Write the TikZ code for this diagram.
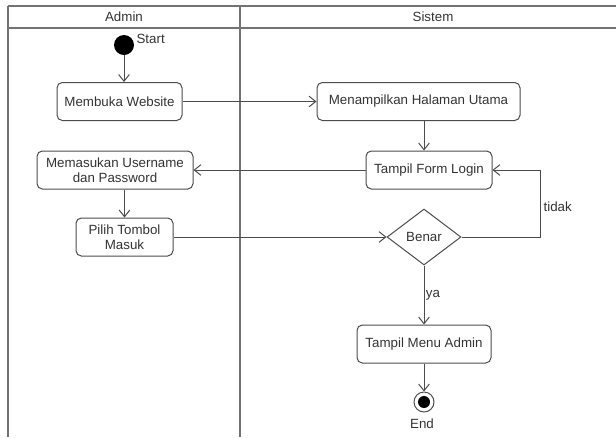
\documentclass[tikz,border=0pt]{standalone}
\usepackage{fontspec}
\setmainfont{Liberation Sans}
\usepackage{tikz}
\usetikzlibrary{shapes.geometric}
\usetikzlibrary{arrows.meta}
\newcommand{\laneline}[1]{ \draw[lane] ( #1 , 6 ) -- ( #1 , 437 );}
\newcommand{\lanetitle}[3]{ \node[txt] (#1) at ( #2 , 17 ) {#3};}
\tikzset{
  lane/.style={draw=black!55, line width=1.3pt},
  txt/.style={text=black!80, font=\fontsize{10}{11.5}\selectfont, inner sep=1pt},
  act/.style={txt, draw=black!70, line width=0.75pt, rounded corners=4pt, align=center, inner sep=0pt, minimum height=28.5pt},
  decide/.style={txt, draw=black!70, line width=0.75pt, diamond, inner sep=0pt, minimum width=55.5pt, minimum height=42pt},
  startnode/.style={circle, fill=black, inner sep=0pt, minimum size=15pt},
  endnode/.style={circle, draw=black!70, line width=0.75pt, inner sep=0pt, minimum size=15pt,
    path picture={\fill[black] (path picture bounding box.center) circle (4.5pt);}},
  flow/.style={draw=black!70, line width=0.75pt, -{Straight Barb[length=5pt,width=8pt]}}
}
\begin{document}
\begin{tikzpicture}[x=0.75pt, y=-0.75pt]
        \useasboundingbox (0,0) rectangle (616,437);
        % lanes
        \draw[lane] (8,6) -- (616,6);
        \draw[lane] (8,28) -- (616,28);
        \laneline{8}
        \laneline{240}
        \lanetitle{admin}{124}{Admin}
        \lanetitle{sistem}{433}{Sistem}
        % admin
        \node[startnode] (start) at (124,45) {};
        \node[txt, anchor=west] (startlbl) at (135,39) {Start};
        \node[act, minimum width=93.75pt] (website) at (119.5,101.5) {Membuka Website};
        \node[act, minimum width=117pt] (username) at (115,170) {Memasukan Username\\dan Password};
        \node[act, minimum width=72.75pt] (pilih) at (124.5,237) {Pilih Tombol\\Masuk};
        % sistem
        \node[act, minimum width=152.25pt] (halaman) at (418.5,101.5) {Menampilkan Halaman Utama};
        \node[act, minimum width=94.5pt] (login) at (429,170) {Tampil Form Login};
        \node[decide] (benar) at (424,237) {Benar};
        \node[act, minimum width=100.5pt] (menu) at (424,344) {Tampil Menu Admin};
        \node[endnode] (end) at (424,402) {};
        \node[txt] (endlbl) at (422,424) {End};
        \coordinate (back) at (540,170);
        % flows
        \draw[flow] (start) -- (start |- website.north);
        \draw[flow] (website) -- (halaman);
        \draw[flow] (halaman.south -| benar) -- (login.north -| benar);
        \draw[flow] (login) -- (username);
        \draw[flow] (pilih |- username.south) -- (pilih.north);
        \draw[flow] (pilih) -- (benar);
        \draw[flow] (benar.east) -| (back) -- (login.east);
        \node[txt, anchor=west] (tidak) at (542,207) {tidak};
        \draw[flow] (benar.south) -- node[txt, right, pos=0.5] (ya) {ya} (menu.north);
        \draw[flow] (menu) -- (end);
    \end{tikzpicture}
\end{document}
